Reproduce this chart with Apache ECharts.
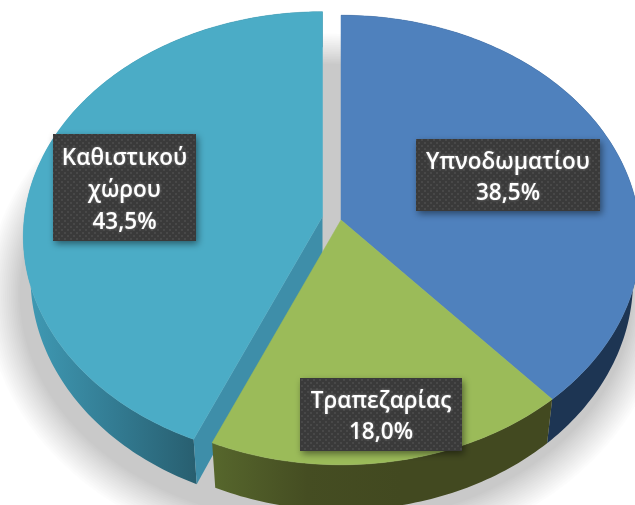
<!DOCTYPE html>
<html><head><meta charset="utf-8">
<style>html,body{margin:0;padding:0;background:#fff;overflow:hidden}#c{width:635px;height:505px;filter:blur(0.4px)}</style>
<script src="https://cdn.jsdelivr.net/npm/echarts@6/dist/echarts.min.js"></script>
</head><body><div id="c"></div>
<script>
var categories = ['Υπνοδωματίου', 'Τραπεζαρίας', 'Καθιστικού χώρου'];
var values = [38.5, 18.0, 43.5];
var topColors = ['#4f81bd', '#9bbb59', '#4bacc6'];
var explode = [[0, 0], [0, 0], [-18.5, -3.5]];
var labelBoxes = [[416, 139, 184, 72], [300, 378, 162, 73], [53, 134, 143, 107]];
var lineHeights = [31, 31, 32];

var CX = 341, CY = 220, RX = 298, RY = 223, K = -0.0889, DEPTH = 40, SCALE_X = 0.976, SCALE_Y = 1.022;
var LG = echarts.graphic.LinearGradient;
function grad(x0, x1, stops) {
  return new LG(x0, 0, x1, 0, stops.map(function (c, i) { return { offset: i / (stops.length - 1), color: c }; }), true);
}
var wallFills = [
  '#1d3553',
  grad(215, 400, ['#56662c', '#454d22', '#424920']),
  grad(30, 195, ['#3f99b3', '#337c93', '#285f70'])
];
var innerWall = '#3e8ea9';
var z2 = { wall: [5, 6, 2], top: [7, 8, 4] };

function pt(deg, off, bottom) {
  var t = deg * Math.PI / 180, u = Math.sin(t), v = -Math.cos(t), w = 1 + K * v;
  return [CX + off[0] + (bottom ? SCALE_X : 1) * RX * u / w,
          CY + off[1] + (bottom ? DEPTH : 0) + (bottom ? SCALE_Y : 1) * RY * v / w];
}
function arc(a0, a1, off, bottom) {
  var pts = [], n = Math.max(2, Math.ceil(Math.abs(a1 - a0)));
  for (var i = 0; i <= n; i++) pts.push(pt(a0 + (a1 - a0) * i / n, off, bottom));
  return pts;
}
function apex(off, bottom) {
  return [CX + off[0], CY + off[1] + (bottom ? DEPTH : 0)];
}
// soft ground shadow: stacked translucent ellipses
function shadowRings() {
  var out = [], n = 18;
  for (var r = 0; r < n; r++) {
    var e = 34 * Math.pow(1 - r / n, 1.1), pts = [];
    for (var d = 0; d < 360; d += 3) {
      var t = d * Math.PI / 180, u = Math.sin(t), v = -Math.cos(t), w = 1 + K * v;
      pts.push([326 + (304 + e) * u / w, CY + DEPTH + 14 + (RY * SCALE_Y + e) * v / w]);
    }
    out.push({ type: 'polygon', z2: 0, silent: true, shape: { points: pts }, style: { fill: 'rgba(0,0,0,0.013)' } });
  }
  return out;
}
var pattern = document.createElement('canvas');
pattern.width = pattern.height = 6;
(function () {
  var g = pattern.getContext('2d');
  g.fillStyle = '#3a3a3a'; g.fillRect(0, 0, 6, 6);
  g.fillStyle = '#484848'; g.fillRect(1, 1, 2, 2); g.fillRect(4, 4, 2, 2);
})();
function poly(points, fill, z, extra) {
  var style = { fill: fill };
  for (var k in (extra || {})) style[k] = extra[k];
  return { type: 'polygon', z2: z, silent: true, shape: { points: points }, style: style };
}
function renderItem(params, api) {
  var i = params.dataIndex, total = values.reduce(function (a, b) { return a + b; }, 0), start = 0;
  for (var j = 0; j < i; j++) start += values[j];
  var a0 = start / total * 360, a1 = (start + api.value(0)) / total * 360;
  var off = explode[i], kids = i === 0 ? shadowRings() : [];
  var topArc = arc(a0, a1, off, false), botArc = arc(a0, a1, off, true).reverse();
  kids.push(poly(topArc.concat(botArc), wallFills[i], z2.wall[i]));
  if (explode[i][0] !== 0) {
    kids.push(poly([apex(off, false), pt(a0, off, false), pt(a0, off, true), apex(off, true)], innerWall, 3));
  }
  kids.push(poly([apex(off, false)].concat(topArc), topColors[i], z2.top[i], { stroke: topColors[i], lineWidth: 0.5 }));
  var b = labelBoxes[i];
  kids.push({ type: 'rect', z2: 10, silent: true, shape: { x: b[0], y: b[1], width: b[2], height: b[3] },
    style: { fill: { image: pattern, repeat: 'repeat' }, shadowBlur: 7, shadowOffsetX: 2, shadowOffsetY: 3, shadowColor: 'rgba(0,0,0,0.45)' } });
  var txt = categories[i].replace(' ', '\n') + '\n' + api.value(0).toFixed(1).replace('.', ',') + '%';
  kids.push({ type: 'text', z2: 11, silent: true,
    style: { text: txt, x: b[0] + b[2] / 2, y: b[1] + b[3] / 2 + 3, align: 'center', verticalAlign: 'middle',
      fill: '#fff', font: '600 22.5px "Open Sans"', lineHeight: lineHeights[i],
      textShadowBlur: 3, textShadowColor: 'rgba(255,255,255,0.35)' } });
  return { type: 'group', children: kids };
}
var chart = echarts.init(document.getElementById('c'), null, { renderer: 'canvas', width: 635, height: 505 });
chart.setOption({
  backgroundColor: '#fff',
  animation: false,
  series: [{
    type: 'custom',
    coordinateSystem: 'none',
    renderItem: renderItem,
    data: values.map(function (v, i) { return { name: categories[i], value: [v] }; }),
    clip: false
  }]
});
</script></body></html>
